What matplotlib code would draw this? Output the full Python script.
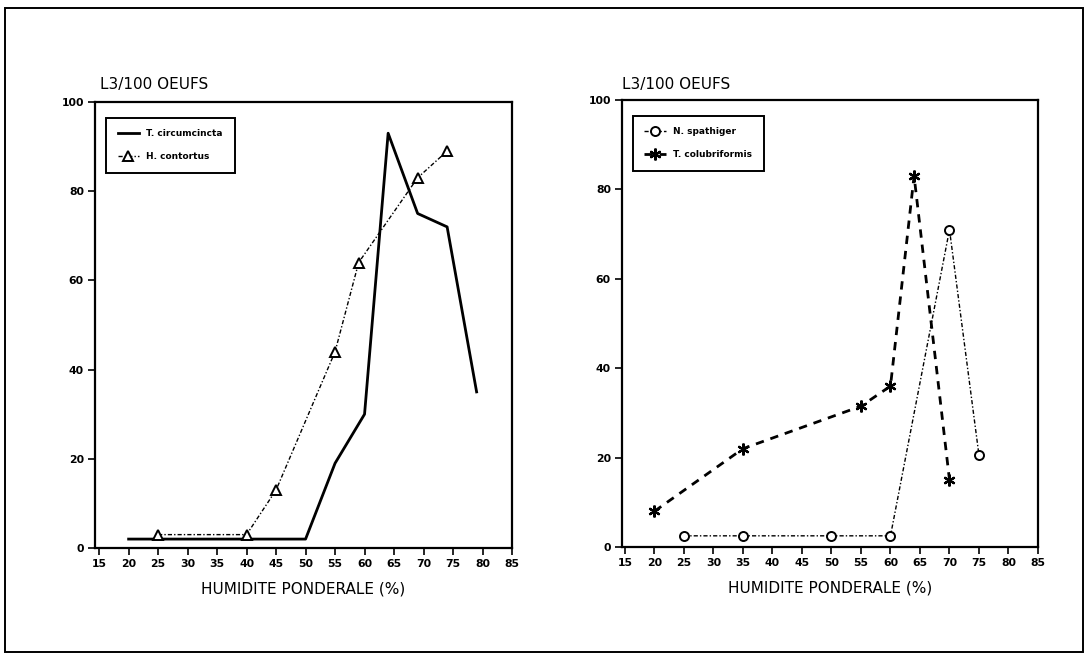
"""Two-panel plot of L3 larvae per 100 eggs against soil humidity."""

import matplotlib
matplotlib.use("Agg")
import matplotlib.pyplot as plt
from matplotlib.patches import Rectangle

# Left panel
tc_x = [20, 50, 55, 60, 64, 69, 74, 79]
tc_y = [2, 2, 19, 30, 93, 75, 72, 35]
hc_x = [25, 40, 45, 55, 59, 69, 74]
hc_y = [3, 3, 13, 44, 64, 83, 89]

# Right panel
ns_x = [25, 35, 50, 60, 70, 75]
ns_y = [2.5, 2.5, 2.5, 2.5, 71, 20.5]
tcol_x = [20, 35, 55, 60, 64, 70]
tcol_y = [8, 22, 31.5, 36, 83, 15]

x_ticks = list(range(15, 90, 5))
y_ticks = [0, 20, 40, 60, 80, 100]
y_title = "L3/100 OEUFS"
x_title = "HUMIDITE PONDERALE (%)"

W, H = 1088, 664
fig = plt.figure(figsize=(W / 100, H / 100), dpi=100)
plt.rcParams["font.family"] = ["DejaVu Sans"]


def frac(x0, y0, x1, y1):
    return [x0 / W, 1 - y1 / H, (x1 - x0) / W, (y1 - y0) / H]


def style_axes(ax, xmin):
    ax.set_xlim(xmin, 85)
    ax.set_ylim(0, 100)
    ax.set_xticks(x_ticks)
    ax.set_yticks(y_ticks)
    ax.tick_params(axis="both", direction="out", length=5, width=1.2,
                   labelsize=7.8, pad=3)
    for lab in ax.get_xticklabels() + ax.get_yticklabels():
        lab.set_fontweight("bold")
    for sp in ax.spines.values():
        sp.set_linewidth(1.6)
    ax.set_xlabel(x_title, fontsize=11, labelpad=9)


ax1 = fig.add_axes(frac(95, 102, 512, 548))
ax1.plot(tc_x, tc_y, color="black", lw=2.0, label="T. circumcincta")
ax1.plot(hc_x, hc_y, color="black", lw=1.0, ls=(0, (3, 1.5, 1, 1.5)),
         marker="^", ms=6.5, mfc="white", mec="black", mew=1.4,
         label="H. contortus")
style_axes(ax1, 14.3)

ax2 = fig.add_axes(frac(622, 100, 1038, 547))
ax2.plot(ns_x, ns_y, color="black", lw=1.0, ls=(0, (3, 1.5, 1, 1.5)),
         marker="o", ms=6.5, mfc="white", mec="black", mew=1.4,
         label="N. spathiger")
ax2.plot(tcol_x, tcol_y, color="black", lw=2.0, ls=(0, (3, 2.5)),
         marker=(6, 2, 0), ms=8.5, mew=1.6, label="T. colubriformis")
style_axes(ax2, 14.5)

for ax in (ax1, ax2):
    leg = ax.legend(loc="upper left", bbox_to_anchor=(0.015, 0.975),
                    prop={"size": 6.5, "weight": "bold"}, fancybox=False,
                    edgecolor="black", framealpha=1, handlelength=2.4,
                    borderpad=1.3, labelspacing=1.5)
    leg.get_frame().set_linewidth(1.4)

fig.text(100 / W, 1 - 85 / H, y_title, fontsize=11, va="center", ha="left")
fig.text(622 / W, 1 - 85 / H, y_title, fontsize=11, va="center", ha="left")

# outer frame of the scanned page
fig.patches.append(Rectangle((5 / W, 1 - 652 / H), 1078 / W, 644 / H,
                             transform=fig.transFigure, fill=False,
                             edgecolor="black", lw=1.4))

fig.savefig("out.png", dpi=100)
